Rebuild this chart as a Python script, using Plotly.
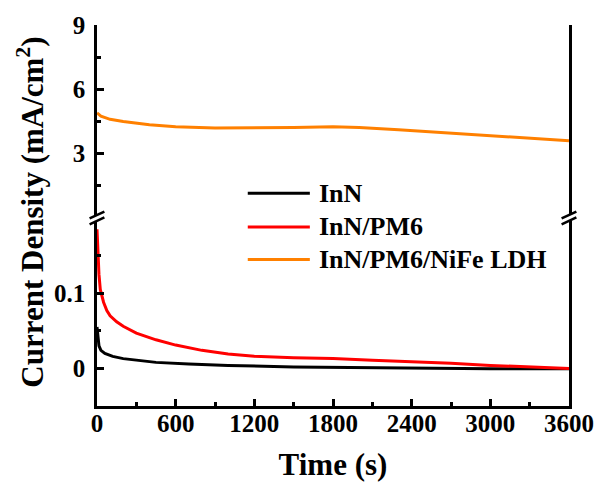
import plotly.graph_objects as go

# Chronoamperometry curves (time in s, current density in mA/cm^2)
t_inn = [0, 5, 15, 30, 60, 120, 200, 300, 450, 700, 1000, 1500, 2000, 2500, 3000, 3600]
j_inn = [0.055, 0.045, 0.030, 0.024, 0.020, 0.016, 0.013, 0.011, 0.008, 0.006,
         0.004, 0.002, 0.001, 0.0, -0.0005, -0.0005]

t_pm6 = [0, 5, 15, 25, 50, 75, 100, 150, 200, 300, 450, 600, 800, 1000, 1200,
         1500, 1800, 2100, 2400, 2700, 3000, 3300, 3600]
j_pm6 = [0.185, 0.160, 0.125, 0.105, 0.088, 0.077, 0.070, 0.062, 0.056, 0.047,
         0.038, 0.031, 0.024, 0.019, 0.016, 0.014, 0.013, 0.011, 0.009, 0.007,
         0.004, 0.002, 0.0]

t_ldh = [0, 30, 100, 200, 400, 600, 900, 1200, 1500, 1800, 2000, 2300, 2600,
         2900, 3200, 3400, 3600]
j_ldh = [4.90, 4.75, 4.60, 4.50, 4.35, 4.25, 4.20, 4.20, 4.22, 4.25, 4.22, 4.12,
         4.00, 3.90, 3.78, 3.70, 3.60]

names = ["InN", "InN/PM6", "InN/PM6/NiFe LDH"]
colors = ["#000000", "#FF0000", "#FF8000"]

x_ticks = [0, 600, 1200, 1800, 2400, 3000, 3600]
x_minor = [300, 900, 1500, 2100, 2700, 3300]
low_ticks = [0, 0.1]
low_ticktext = ["0", "0.1"]
low_minor = [-0.05, 0.05, 0.15]
high_ticks = [3, 6, 9]
high_minor = [1.5, 4.5, 7.5]

FONT = "Liberation Serif"
W, H = 606, 488
ML, MR, MT, MB = 97, 30, 23, 80
PW, PH = W - ML - MR, H - MT - MB
SPLIT = 0.4935  # boundary between lower and upper y segments (paper units)
LW = 2.5

fig = go.Figure()
fig.add_trace(go.Scatter(x=t_inn, y=j_inn, mode="lines", name=names[0],
                         line=dict(color=colors[0], width=3), xaxis="x", yaxis="y"))
fig.add_trace(go.Scatter(x=t_pm6, y=j_pm6, mode="lines", name=names[1],
                         line=dict(color=colors[1], width=3), xaxis="x", yaxis="y"))
fig.add_trace(go.Scatter(x=t_ldh, y=j_ldh, mode="lines", name=names[2],
                         line=dict(color=colors[2], width=3), xaxis="x", yaxis="y2"))

tickfont = dict(family=FONT, size=25, color="black", weight="bold")

fig.update_layout(
    width=W, height=H,
    margin=dict(l=ML, r=MR, t=MT, b=MB),
    paper_bgcolor="white", plot_bgcolor="white",
    showlegend=False,
    xaxis=dict(
        domain=[0, 1], anchor="y", range=[0, 3600],
        tickmode="array", tickvals=x_ticks,
        ticks="inside", ticklen=7, tickwidth=LW, tickcolor="black",
        minor=dict(tickmode="array", tickvals=x_minor, ticks="inside",
                   ticklen=4, tickwidth=LW, tickcolor="black"),
        showline=True, linewidth=LW, linecolor="black",
        showgrid=False, zeroline=False, tickfont=tickfont, ticklabelstandoff=-7,
        title=dict(text="Time (s)", standoff=18,
                   font=dict(family=FONT, size=31, color="black", weight="bold")),
    ),
    xaxis2=dict(
        matches="x", overlaying="x", anchor="y2", side="top",
        showline=True, linewidth=LW, linecolor="black",
        showticklabels=False, ticks="", showgrid=False, zeroline=False,
    ),
    yaxis=dict(
        domain=[0, SPLIT], anchor="x", range=[-0.05, 0.2],
        tickmode="array", tickvals=low_ticks, ticktext=low_ticktext,
        ticks="inside", ticklen=7, tickwidth=LW, tickcolor="black",
        minor=dict(tickmode="array", tickvals=low_minor, ticks="inside",
                   ticklen=4, tickwidth=LW, tickcolor="black"),
        showline=True, mirror=True, linewidth=LW, linecolor="black",
        showgrid=False, zeroline=False, tickfont=tickfont, ticklabelstandoff=4,
    ),
    yaxis2=dict(
        domain=[SPLIT, 1], anchor="x", range=[0, 9],
        tickmode="array", tickvals=high_ticks,
        ticks="inside", ticklen=7, tickwidth=LW, tickcolor="black",
        minor=dict(tickmode="array", tickvals=high_minor, ticks="inside",
                   ticklen=4, tickwidth=LW, tickcolor="black"),
        showline=True, mirror=True, linewidth=LW, linecolor="black",
        showgrid=False, zeroline=False, tickfont=tickfont, ticklabelstandoff=4,
    ),
)

# y-axis title spanning both segments
fig.add_annotation(
    text="Current Density (mA/cm<sup>2</sup>)", textangle=-90,
    xref="paper", yref="paper", x=(30 - ML) / PW, y=0.51,
    xanchor="center", yanchor="middle", showarrow=False,
    font=dict(family=FONT, size=31, color="black", weight="bold"),
)

# axis-break symbols on left and right spines
px_x = 1.0 / PW
px_y = 1.0 / PH
for xb in (0.0, 1.0):
    fig.add_shape(type="rect", xref="paper", yref="paper",
                  x0=xb - 4 * px_x, x1=xb + 4 * px_x,
                  y0=SPLIT - 3 * px_y, y1=SPLIT + 3 * px_y,
                  fillcolor="white", line=dict(width=0), layer="above")
    for dy in (-3, 3):
        fig.add_shape(type="line", xref="paper", yref="paper",
                      x0=xb - 7.5 * px_x, y0=SPLIT + (dy - 3.5) * px_y,
                      x1=xb + 7.5 * px_x, y1=SPLIT + (dy + 3.5) * px_y,
                      line=dict(color="black", width=2.5), layer="above")

# legend drawn as line samples with labels
leg_x0 = (250 - ML) / PW
leg_x1 = (313 - ML) / PW
leg_tx = (320 - ML) / PW
leg_rows = [193, 227, 260]
for name, color, row in zip(names, colors, leg_rows):
    yp = (H - MB - row) / PH
    fig.add_shape(type="line", xref="paper", yref="paper",
                  x0=leg_x0, x1=leg_x1, y0=yp, y1=yp,
                  line=dict(color=color, width=3))
    fig.add_annotation(text=name, xref="paper", yref="paper", x=leg_tx, y=yp,
                       xanchor="left", yanchor="middle", showarrow=False,
                       font=dict(family=FONT, size=26, color="black", weight="bold"))

fig.write_html("out.html")
